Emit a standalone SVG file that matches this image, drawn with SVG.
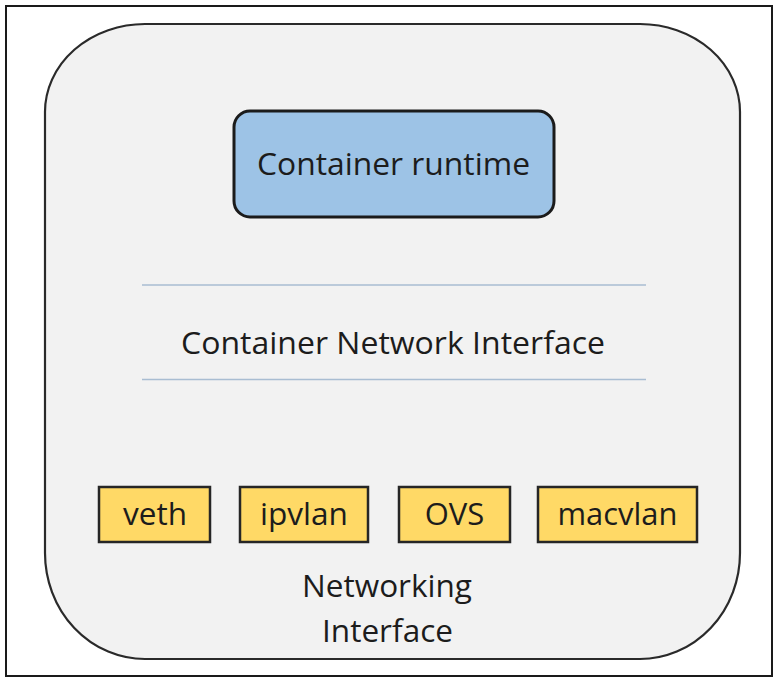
<svg xmlns="http://www.w3.org/2000/svg" width="774" height="680" viewBox="0 0 774 680">
  <style>
    .t { font-family: "Open Sans", "Liberation Sans", sans-serif; font-size: 31px; fill: #1c1c1c; text-anchor: middle; }
    .small { fill: #ffd966; stroke: #262626; stroke-width: 2.5; }
    .sep { stroke: #a9bdd2; stroke-width: 1.6; }
  </style>
  <rect x="0" y="0" width="774" height="680" fill="#ffffff"/>
  <rect id="frame" x="6" y="6" width="766" height="670" fill="#ffffff" stroke="#1a1a1a" stroke-width="2"/>
  <g id="host">
    <path d="M 145 24 L 640 24 A 100 88 0 0 1 740 112 L 740 553 A 100 106 0 0 1 640 659 L 145 659 A 100 106 0 0 1 45 553 L 45 112 A 100 88 0 0 1 145 24 Z" fill="#f2f2f2" stroke="#2a2a2a" stroke-width="2.2"/>
  </g>
  <g id="runtime">
    <rect x="234" y="111" width="320" height="106" rx="16" ry="16" fill="#9dc3e6" stroke="#1b1b1b" stroke-width="3"/>
    <text class="t" x="393.5" y="175" textLength="273" lengthAdjust="spacingAndGlyphs" fill="#1d2636">Container runtime</text>
  </g>
  <g id="connectors">
    <line class="sep" x1="142" y1="285" x2="646" y2="285"/>
    <line class="sep" x1="142" y1="379.5" x2="646" y2="379.5"/>
  </g>
  <g id="cni">
    <text class="t" x="393" y="354" textLength="424" lengthAdjust="spacingAndGlyphs">Container Network Interface</text>
  </g>
  <g id="veth">
    <rect class="small" x="99" y="487" width="111" height="55"/>
    <text class="t" x="155" y="525" textLength="64" lengthAdjust="spacingAndGlyphs" fill="#2a2414">veth</text>
  </g>
  <g id="ipvlan">
    <rect class="small" x="240" y="487" width="128" height="55"/>
    <text class="t" x="304" y="525" textLength="88" lengthAdjust="spacingAndGlyphs" fill="#2a2414">ipvlan</text>
  </g>
  <g id="ovs">
    <rect class="small" x="399" y="487" width="111" height="55"/>
    <text class="t" x="454.5" y="525" fill="#2a2414">OVS</text>
  </g>
  <g id="macvlan">
    <rect class="small" x="538" y="487" width="159" height="55"/>
    <text class="t" x="617.5" y="525" textLength="120" lengthAdjust="spacingAndGlyphs" fill="#2a2414">macvlan</text>
  </g>
  <g id="networking">
    <text class="t" x="387" y="597" textLength="170" lengthAdjust="spacingAndGlyphs">Networking</text>
    <text class="t" x="387.5" y="642" textLength="131" lengthAdjust="spacingAndGlyphs">Interface</text>
  </g>
</svg>
